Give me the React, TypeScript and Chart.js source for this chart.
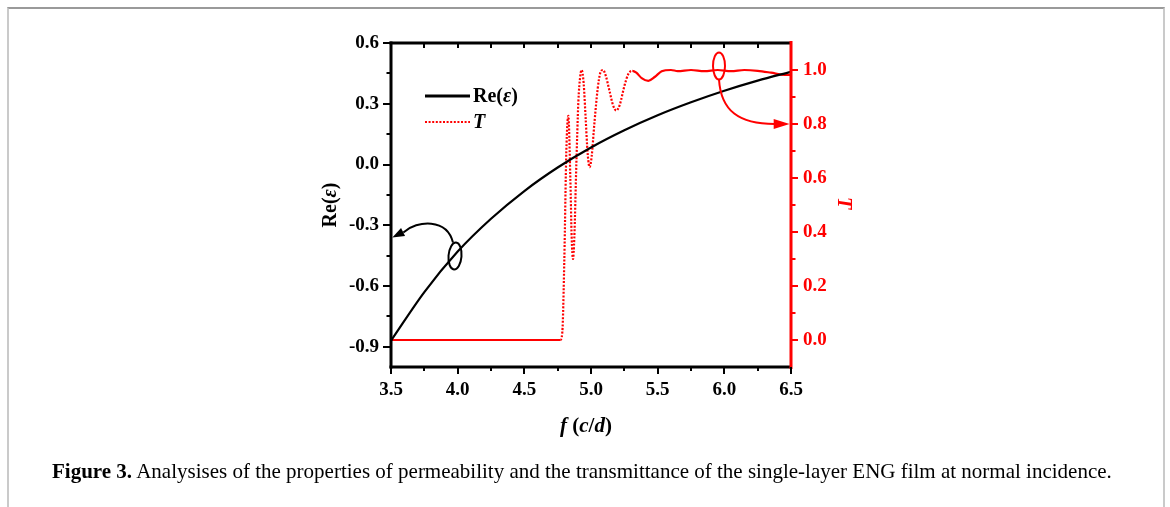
import React, { useEffect, useRef } from "react";
import { Chart, registerables } from "chart.js";

Chart.register(...registerables);

// ---- data ----
const reFreq = [3.5, 3.75, 4.0, 4.25, 4.5, 4.75, 5.0, 5.25, 5.5, 5.75, 6.0, 6.25, 6.5];
const reValues = [-0.87, -0.63, -0.43, -0.268, -0.131, -0.015, 0.084, 0.169, 0.243, 0.307, 0.364, 0.414, 0.458];

const tFreq = [
  3.5, 4.0, 4.5, 4.7, 4.77, 4.785, 4.8, 4.815, 4.83, 4.845, 4.855, 4.865, 4.875, 4.89, 4.905, 4.92, 4.93,
  4.945, 4.96, 4.975, 4.99, 5.005, 5.025, 5.05, 5.07, 5.09, 5.11, 5.14, 5.165, 5.19, 5.215, 5.25, 5.28,
  5.31, 5.34, 5.38, 5.43, 5.48, 5.53, 5.6, 5.65, 5.75, 5.85, 5.95, 6.05, 6.15, 6.25, 6.35, 6.45, 6.5,
];
const tValues = [
  0, 0, 0, 0, 0.0, 0.03, 0.3, 0.7, 0.83, 0.6, 0.38, 0.3, 0.38, 0.65, 0.88, 0.98, 1.0,
  0.95, 0.82, 0.69, 0.64, 0.68, 0.8, 0.93, 0.99, 1.0, 0.98, 0.92, 0.87, 0.85, 0.87, 0.94, 0.985,
  0.997, 0.99, 0.97, 0.96, 0.975, 0.995, 1.0, 0.996, 1.0, 0.996, 1.0, 0.996, 1.0, 0.997, 0.99, 0.982, 0.982,
];

const xTicks = [3.5, 4.0, 4.5, 5.0, 5.5, 6.0, 6.5];
const xMinor = [3.75, 4.25, 4.75, 5.25, 5.75, 6.25];
const yTicks = [-0.9, -0.6, -0.3, 0.0, 0.3, 0.6];
const yMinor = [-0.75, -0.45, -0.15, 0.15, 0.45];
const tTicks = [0.0, 0.2, 0.4, 0.6, 0.8, 1.0];
const tMinor = [0.1, 0.3, 0.5, 0.7, 0.9];

const dottedFrom = 4.77;
const dottedTo = 5.29;

const captionBold = "Figure 3.";
const captionText =
  " Analysises of the properties of permeability and the transmittance of the single-layer ENG film at normal incidence.";

// ---- styles ----
const SERIF = "'Liberation Serif', 'Times New Roman', serif";
const RED = "#ff0000";

type Part = [string, string];

function drawRich(ctx: CanvasRenderingContext2D, parts: Part[], cx: number, cy: number) {
  let total = 0;
  const widths = parts.map(([t, f]) => {
    ctx.font = f;
    const w = ctx.measureText(t).width;
    total += w;
    return w;
  });
  let x = cx - total / 2;
  ctx.textBaseline = "middle";
  ctx.textAlign = "left";
  parts.forEach(([t, f], i) => {
    ctx.font = f;
    ctx.fillText(t, x, cy);
    x += widths[i];
  });
}

function drawParts(ctx: CanvasRenderingContext2D, parts: Part[], x0: number, cy: number) {
  let x = x0;
  ctx.textBaseline = "middle";
  ctx.textAlign = "left";
  parts.forEach(([t, f]) => {
    ctx.font = f;
    ctx.fillText(t, x, cy);
    x += ctx.measureText(t).width;
  });
}

function arrowHead(ctx: CanvasRenderingContext2D, tx: number, ty: number, fx: number, fy: number, len: number, half: number) {
  const dx = tx - fx;
  const dy = ty - fy;
  const d = Math.hypot(dx, dy) || 1;
  const ux = dx / d;
  const uy = dy / d;
  const bx = tx - ux * len;
  const by = ty - uy * len;
  ctx.beginPath();
  ctx.moveTo(tx, ty);
  ctx.lineTo(bx - uy * half, by + ux * half);
  ctx.lineTo(bx + uy * half, by - ux * half);
  ctx.closePath();
  ctx.fill();
}

const decor = {
  id: "decor",
  afterDatasetsDraw(chart: any) {
    const { ctx, chartArea: a, scales } = chart;
    const xs = scales.x;
    const ys = scales.y;
    const ts = scales.y2;
    const line = (x1: number, y1: number, x2: number, y2: number) => {
      ctx.beginPath();
      ctx.moveTo(x1, y1);
      ctx.lineTo(x2, y2);
      ctx.stroke();
    };
    ctx.save();
    ctx.lineCap = "butt";

    // annotations: black ellipse + arrow to left axis
    {
      ctx.strokeStyle = "#000";
      ctx.fillStyle = "#000";
      ctx.lineWidth = 2;
      const cx = xs.getPixelForValue(3.98);
      const cy = ys.getPixelForValue(-0.452);
      ctx.beginPath();
      ctx.ellipse(cx, cy, 6.5, 13.5, 0.08, 0, Math.PI * 2);
      ctx.stroke();
      const tx = xs.getPixelForValue(3.51);
      const ty = ys.getPixelForValue(-0.36);
      ctx.beginPath();
      ctx.moveTo(cx - 2, cy - 13.5);
      ctx.bezierCurveTo(cx - 8, cy - 38, tx + 25, cy - 36, tx + 11, ty - 5);
      ctx.stroke();
      arrowHead(ctx, tx, ty, tx + 14, ty - 7, 12, 4.5);
    }
    // annotations: red ellipse + arrow to right axis
    {
      ctx.strokeStyle = RED;
      ctx.fillStyle = RED;
      ctx.lineWidth = 2;
      const cx = xs.getPixelForValue(5.96);
      const cy = ts.getPixelForValue(1.015);
      ctx.beginPath();
      ctx.ellipse(cx, cy, 6, 13.5, 0, 0, Math.PI * 2);
      ctx.stroke();
      const tx = xs.getPixelForValue(6.49);
      const ty = ts.getPixelForValue(0.8);
      ctx.beginPath();
      ctx.moveTo(cx, cy + 13.5);
      ctx.bezierCurveTo(cx + 2, cy + 45, cx + 20, ty, tx - 15, ty);
      ctx.stroke();
      arrowHead(ctx, tx, ty, tx - 20, ty, 16, 5);
    }

    // frame
    ctx.strokeStyle = "#000";
    ctx.lineWidth = 3;
    line(a.left, a.top - 1.5, a.left, a.bottom + 1.5);
    line(a.left - 1.5, a.bottom, a.right, a.bottom);
    line(a.left - 1.5, a.top, a.right, a.top);
    ctx.strokeStyle = RED;
    line(a.right, a.top - 2, a.right, a.bottom + 2);

    // ticks
    ctx.strokeStyle = "#000";
    ctx.lineWidth = 2;
    yTicks.forEach((v) => {
      const y = Math.round(ys.getPixelForValue(v));
      line(a.left - 8, y, a.left, y);
    });
    yMinor.forEach((v) => {
      const y = Math.round(ys.getPixelForValue(v));
      line(a.left - 4.5, y, a.left, y);
    });
    xTicks.forEach((v) => {
      const x = Math.round(xs.getPixelForValue(v));
      line(x, a.bottom, x, a.bottom + 7);
    });
    xMinor.forEach((v) => {
      const x = Math.round(xs.getPixelForValue(v));
      line(x, a.bottom, x, a.bottom + 4);
    });
    [...xTicks, ...xMinor].forEach((v) => {
      if (v <= 3.5 || v >= 6.5) return;
      const x = Math.round(xs.getPixelForValue(v));
      line(x, a.top, x, a.top + 5);
    });
    ctx.strokeStyle = RED;
    tTicks.forEach((v) => {
      const y = Math.round(ts.getPixelForValue(v));
      line(a.right, y, a.right + 7, y);
    });
    tMinor.forEach((v) => {
      const y = Math.round(ts.getPixelForValue(v));
      line(a.right, y, a.right + 4.5, y);
    });

    // axis titles
    ctx.fillStyle = "#000";
    ctx.save();
    ctx.translate(331, 205);
    ctx.rotate(-Math.PI / 2);
    drawRich(
      ctx,
      [
        ["Re(", `bold 20px ${SERIF}`],
        ["ε", `italic bold 20px ${SERIF}`],
        [")", `bold 20px ${SERIF}`],
      ],
      0,
      0
    );
    ctx.restore();

    ctx.fillStyle = RED;
    ctx.save();
    ctx.translate(843, 203);
    ctx.rotate(Math.PI / 2);
    drawRich(ctx, [["T", `italic bold 20px ${SERIF}`]], 0, 0);
    ctx.restore();

    ctx.fillStyle = "#000";
    drawRich(
      ctx,
      [
        ["f", `italic bold 21px ${SERIF}`],
        [" (", `bold 21px ${SERIF}`],
        ["c", `italic bold 21px ${SERIF}`],
        ["/", `bold 21px ${SERIF}`],
        ["d", `italic bold 21px ${SERIF}`],
        [")", `bold 21px ${SERIF}`],
      ],
      586,
      427
    );

    // legend
    const lx = a.left + 34;
    ctx.strokeStyle = "#000";
    ctx.lineWidth = 3;
    line(lx, 96, lx + 45, 96);
    ctx.fillStyle = "#000";
    drawParts(
      ctx,
      [
        ["Re(", `bold 20px ${SERIF}`],
        ["ε", `italic bold 20px ${SERIF}`],
        [")", `bold 20px ${SERIF}`],
      ],
      lx + 48,
      97
    );
    ctx.strokeStyle = RED;
    ctx.lineWidth = 2;
    ctx.setLineDash([2, 1.6]);
    line(lx, 122, lx + 45, 122);
    ctx.setLineDash([]);
    drawParts(ctx, [["T", `italic bold 20px ${SERIF}`]], lx + 48, 123);

    ctx.restore();
  },
};

export default function App() {
  const canvasRef = useRef<HTMLCanvasElement | null>(null);

  useEffect(() => {
    const canvas = canvasRef.current;
    if (!canvas) return;
    const tickFont = { family: SERIF, size: 19, weight: "bold" as const };
    const chart = new Chart(canvas, {
      type: "line",
      data: {
        datasets: [
          {
            label: "Re(ε)",
            data: reFreq.map((x, i) => ({ x, y: reValues[i] })),
            yAxisID: "y",
            borderColor: "#000",
            borderWidth: 2.2,
            pointRadius: 0,
            cubicInterpolationMode: "monotone",
          },
          {
            label: "T",
            data: tFreq.map((x, i) => ({ x, y: tValues[i] })),
            yAxisID: "y2",
            borderColor: RED,
            borderWidth: 2.2,
            pointRadius: 0,
            cubicInterpolationMode: "monotone",
            segment: {
              borderDash: (c: any) => {
                const x = c.p0.parsed.x;
                return x >= dottedFrom && x < dottedTo ? [2, 1.6] : undefined;
              },
            },
          },
        ],
      },
      options: {
        animation: false,
        responsive: false,
        maintainAspectRatio: false,
        layout: { padding: { top: 43, left: 0, right: 0, bottom: 0 } },
        plugins: { legend: { display: false }, tooltip: { enabled: false } },
        scales: {
          x: {
            type: "linear",
            position: "bottom",
            min: 3.5,
            max: 6.5,
            grid: { display: false, drawTicks: false },
            border: { display: false },
            afterBuildTicks: (s: any) => {
              s.ticks = xTicks.map((v) => ({ value: v }));
            },
            afterFit: (s: any) => {
              s.height = 140;
            },
            ticks: {
              font: tickFont,
              color: "#000",
              padding: 12,
              maxRotation: 0,
              callback: (v: any) => Number(v).toFixed(1),
            },
          },
          y: {
            type: "linear",
            position: "left",
            min: -1.0,
            max: 0.6,
            grid: { display: false, drawTicks: false },
            border: { display: false },
            afterBuildTicks: (s: any) => {
              s.ticks = yTicks.map((v) => ({ value: v }));
            },
            afterFit: (s: any) => {
              s.width = 391;
            },
            ticks: {
              font: tickFont,
              color: "#000",
              padding: 12,
              callback: (v: any) => Number(v).toFixed(1),
            },
          },
          y2: {
            type: "linear",
            position: "right",
            min: -0.1,
            max: 1.1,
            grid: { display: false, drawTicks: false },
            border: { display: false },
            afterBuildTicks: (s: any) => {
              s.ticks = tTicks.map((v) => ({ value: v }));
            },
            afterFit: (s: any) => {
              s.width = 379;
            },
            ticks: {
              font: tickFont,
              color: RED,
              padding: 12,
              callback: (v: any) => Number(v).toFixed(1),
            },
          },
        },
      },
      plugins: [decor],
    } as any);
    return () => chart.destroy();
  }, []);

  return (
    <div style={{ position: "absolute", left: 0, top: 0, width: 1170, height: 507, background: "#fff", overflow: "hidden" }}>
      <div
        style={{
          position: "absolute",
          left: 7,
          top: 7,
          width: 1154,
          height: 520,
          borderTop: "2px solid #9a9a9a",
          borderLeft: "2px solid #cacaca",
          borderRight: "2px solid #cacaca",
        }}
      />
      <canvas ref={canvasRef} width={1170} height={507} style={{ position: "absolute", left: 0, top: 0 }} />
      <div
        style={{
          position: "absolute",
          left: 52,
          top: 459,
          whiteSpace: "nowrap",
          fontFamily: SERIF,
          fontSize: 21,
          color: "#000",
          lineHeight: "25px",
        }}
      >
        <b>{captionBold}</b>
        {captionText}
      </div>
    </div>
  );
}
